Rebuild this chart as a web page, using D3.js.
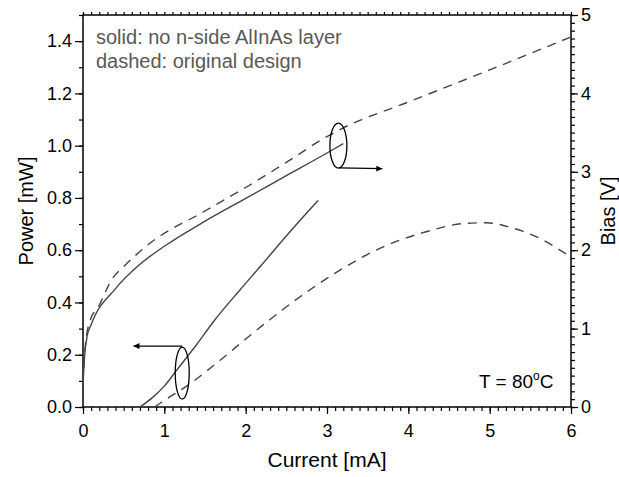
<!DOCTYPE html>
<html>
<head>
<meta charset="utf-8">
<script src="https://cdn.jsdelivr.net/npm/d3@7"></script>
<style>
    body { margin: 0; background: #fff; }
    text { font-family: "Liberation Sans", Arial, sans-serif; }
</style>
</head>
<body>
<div id="chart"></div>
<script>

// current [mA] vs power [mW], left axis
const solidPower = [[0.70, 0], [0.85, 0.035], [1.0, 0.08], [1.15, 0.14], [1.4, 0.24], [1.62, 0.333],
    [1.93, 0.448], [2.2, 0.545], [2.46, 0.64], [2.7, 0.725], [2.89, 0.79]];
const dashedPower = [[0.88, 0], [1.0, 0.025], [1.32, 0.09], [1.69, 0.18], [2.0, 0.26], [2.3, 0.335],
    [2.67, 0.422], [3.16, 0.524], [3.65, 0.607], [4.19, 0.668], [4.72, 0.703], [4.96, 0.705],
    [5.29, 0.684], [5.62, 0.645], [5.93, 0.588], [6.0, 0.575]];

// current [mA] vs bias [V], right axis
const solidBias = [[0, 0.3], [0.02, 0.65], [0.05, 0.9], [0.1, 1.05], [0.4, 1.51], [0.7, 1.82],
    [1.0, 2.05], [1.5, 2.37], [2.0, 2.66], [2.5, 2.95], [3.0, 3.24], [3.2, 3.36]];
const dashedBias = [[0, 0.3], [0.03, 0.8], [0.09, 1.11], [0.19, 1.28], [0.35, 1.62], [0.52, 1.81],
    [0.8, 2.07], [1.5, 2.5], [2.0, 2.8], [2.5, 3.12], [3.0, 3.45], [3.2, 3.56], [4.0, 3.89],
    [5.0, 4.3], [6.0, 4.72]];

const currentTicks = [0, 1, 2, 3, 4, 5, 6];
const powerTicks = [0, 0.2, 0.4, 0.6, 0.8, 1.0, 1.2, 1.4];
const biasTicks = [0, 1, 2, 3, 4, 5];

const noteLines = ["solid: no n-side AlInAs layer", "dashed: original design"];


class DualAxisChart {
    constructor(parentElement) {
        this.parentElement = parentElement;
        this.initVis();
    }

    initVis() {
        let vis = this;

        vis.margin = { top: 15, right: 48, bottom: 70, left: 83 };
        vis.width = 619 - vis.margin.left - vis.margin.right;
        vis.height = 477 - vis.margin.top - vis.margin.bottom;

        vis.svg = d3.select("#" + vis.parentElement).append("svg")
            .attr("width", 619)
            .attr("height", 477)
            .append("g")
            .attr("transform", "translate(" + vis.margin.left + "," + vis.margin.top + ")");

        vis.svg.append("defs").append("marker")
            .attr("id", "arrow")
            .attr("viewBox", "0 0 10 10")
            .attr("refX", 10)
            .attr("refY", 5)
            .attr("markerWidth", 9)
            .attr("markerHeight", 6)
            .attr("markerUnits", "userSpaceOnUse")
            .attr("orient", "auto")
            .append("path")
            .attr("d", "M0,0L10,5L0,10Z")
            .attr("fill", "#000");

        // scales
        vis.x = d3.scaleLinear().domain([0, 6]).range([0, vis.width]);
        vis.yPower = d3.scaleLinear().domain([0, 1.5]).range([vis.height, 0]);
        vis.yBias = d3.scaleLinear().domain([0, 5]).range([vis.height, 0]);

        // minor ticks first, then major ticks with labels
        vis.drawAxis(d3.axisBottom(vis.x).tickValues(d3.range(0, 6.001, 0.1)).tickSize(4).tickFormat(""),
            "translate(0," + vis.height + ")");
        vis.drawAxis(d3.axisBottom(vis.x).tickValues(currentTicks).tickSize(7).tickPadding(10).tickFormat(d3.format("d")),
            "translate(0," + vis.height + ")");
        vis.drawAxis(d3.axisTop(vis.x).tickValues(d3.range(0, 6.001, 0.1)).tickSize(3).tickFormat(""),
            "translate(0,0)");

        vis.drawAxis(d3.axisLeft(vis.yPower).tickValues(d3.range(0, 1.501, 0.1)).tickSize(4).tickFormat(""),
            "translate(0,0)");
        vis.drawAxis(d3.axisLeft(vis.yPower).tickValues(powerTicks).tickSize(8).tickPadding(3).tickFormat(d3.format(".1f")),
            "translate(0,0)");

        vis.drawAxis(d3.axisRight(vis.yBias).tickValues(d3.range(0, 5.001, 0.1)).tickSize(4).tickFormat(""),
            "translate(" + vis.width + ",0)");
        vis.drawAxis(d3.axisRight(vis.yBias).tickValues(biasTicks).tickSize(7).tickPadding(3).tickFormat(d3.format("d")),
            "translate(" + vis.width + ",0)");

        // frame
        vis.svg.append("rect")
            .attr("width", vis.width)
            .attr("height", vis.height)
            .attr("fill", "none")
            .attr("stroke", "#000")
            .attr("stroke-width", 1.5);

        // curves
        vis.powerLine = d3.line()
            .curve(d3.curveMonotoneX)
            .x(d => vis.x(d[0]))
            .y(d => vis.yPower(d[1]));

        vis.biasLine = d3.line()
            .curve(d3.curveMonotoneX)
            .x(d => vis.x(d[0]))
            .y(d => vis.yBias(d[1]));

        let curves = [
            { data: solidPower, line: vis.powerLine, dash: null },
            { data: dashedPower, line: vis.powerLine, dash: "9,7" },
            { data: solidBias, line: vis.biasLine, dash: null },
            { data: dashedBias, line: vis.biasLine, dash: "9,7" }
        ];

        vis.svg.selectAll(".curve")
            .data(curves)
            .enter().append("path")
            .attr("class", "curve")
            .attr("d", d => d.line(d.data))
            .attr("fill", "none")
            .attr("stroke", "#444")
            .attr("stroke-width", 1.4)
            .attr("stroke-dasharray", d => d.dash);

        // ellipses + arrows pointing at the axis each pair belongs to
        vis.svg.append("ellipse")
            .attr("cx", vis.x(3.14))
            .attr("cy", vis.yPower(1.0))
            .attr("rx", 8.5)
            .attr("ry", 22.5)
            .attr("fill", "none")
            .attr("stroke", "#000")
            .attr("stroke-width", 1.3);

        vis.svg.append("line")
            .attr("x1", vis.x(3.15))
            .attr("y1", vis.yPower(0.915))
            .attr("x2", vis.x(3.68))
            .attr("y2", vis.yPower(0.912))
            .attr("stroke", "#000")
            .attr("stroke-width", 1.3)
            .attr("marker-end", "url(#arrow)");

        vis.svg.append("ellipse")
            .attr("cx", vis.x(1.22))
            .attr("cy", vis.yPower(0.13))
            .attr("rx", 7)
            .attr("ry", 26)
            .attr("fill", "none")
            .attr("stroke", "#000")
            .attr("stroke-width", 1.3);

        vis.svg.append("line")
            .attr("x1", vis.x(1.22))
            .attr("y1", vis.yPower(0.233))
            .attr("x2", vis.x(0.62))
            .attr("y2", vis.yPower(0.233))
            .attr("stroke", "#000")
            .attr("stroke-width", 1.3)
            .attr("marker-end", "url(#arrow)");

        // notes
        vis.svg.selectAll(".note")
            .data(noteLines)
            .enter().append("text")
            .attr("class", "note")
            .attr("x", 13)
            .attr("y", (d, i) => 29 + i * 24)
            .style("font-size", "20px")
            .style("fill", "#595959")
            .text(d => d);

        let temp = vis.svg.append("text")
            .attr("x", vis.width - 92)
            .attr("y", vis.height - 19)
            .style("font-size", "19px")
            .style("fill", "#000");
        temp.append("tspan").text("T = 80");
        temp.append("tspan").attr("dy", -8).style("font-size", "12px").text("o");
        temp.append("tspan").attr("dy", 8).text("C");

        // axis titles
        vis.svg.append("text")
            .attr("x", vis.width / 2)
            .attr("y", vis.height + 60)
            .style("text-anchor", "middle")
            .style("font-size", "21px")
            .text("Current [mA]");

        vis.svg.append("text")
            .attr("transform", "rotate(-90)")
            .attr("x", -vis.height / 2)
            .attr("y", -50)
            .style("text-anchor", "middle")
            .style("font-size", "20px")
            .text("Power [mW]");

        vis.svg.append("text")
            .attr("transform", "rotate(-90)")
            .attr("x", -vis.height / 2)
            .attr("y", vis.width + 44)
            .style("text-anchor", "middle")
            .style("font-size", "20px")
            .text("Bias [V]");
    }

    drawAxis(axis, transform) {
        let g = this.svg.append("g")
            .attr("class", "axis")
            .attr("transform", transform)
            .call(axis);
        g.select(".domain").remove();
        g.selectAll(".tick line").attr("stroke", "#000").attr("stroke-width", 1.2);
        g.selectAll(".tick text")
            .style("font-family", "Liberation Sans, Arial, sans-serif")
            .style("font-size", "18px")
            .attr("fill", "#000");
    }
}

new DualAxisChart("chart");

</script>
</body>
</html>
